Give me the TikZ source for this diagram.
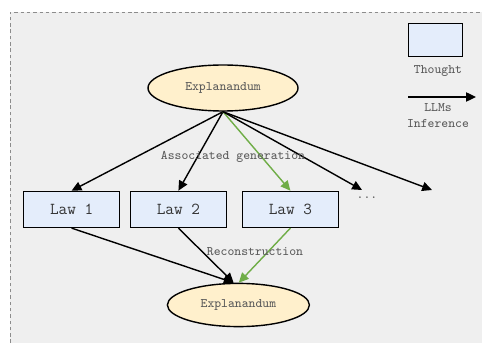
\documentclass[tikz,border=0pt]{standalone}
\usepackage{fontspec}
\usetikzlibrary{shapes.geometric,arrows.meta}
\definecolor{bggray}{HTML}{EFEFEF}
\definecolor{framegray}{HTML}{8C8C8C}
\definecolor{lawblue}{HTML}{E4EDFB}
\definecolor{explyellow}{HTML}{FFF0CC}
\definecolor{infgreen}{HTML}{6FAD47}
\definecolor{labelgray}{HTML}{5A5A5A}
\begin{document}
\begin{tikzpicture}[
   lawbox/.style={draw,line width=1pt,fill=lawblue,minimum width=2.4cm,minimum height=0.9cm,inner sep=0pt,font=\ttfamily\fontsize{11.9}{13}\selectfont,text=black!80},
   explnode/.style={ellipse,draw,line width=1pt,fill=explyellow,inner sep=0pt,font=\ttfamily\fontsize{9.3}{11}\selectfont,text=labelgray},
   lbl/.style={font=\ttfamily\fontsize{9.3}{11}\selectfont,text=labelgray,inner sep=1pt},
   inf/.style={line width=1pt,-{Triangle[length=7pt,width=6.5pt]}},
   infg/.style={inf,draw=infgreen,-{Triangle[length=7pt,width=6.5pt]}}]
   \useasboundingbox (0,0) rectangle (12.05,8.575);
   \fill[bggray] (0.25,0) rectangle (12.05,8.275);
   \draw[framegray,dash pattern=on 2.5pt off 2pt,line width=0.6pt] (0.25,0)--(0.25,8.275)--(12.05,8.275);
   \node[draw,line width=1pt,fill=lawblue,minimum width=1.35cm,minimum height=0.83cm,inner sep=0pt] (legbox) at (10.89,7.575) {};
   \node[lbl] (thought) at (10.95,6.8) {Thought};
   \coordinate (legstart) at (10.2,6.15); \coordinate (legend) at (11.9,6.15);
   \draw[inf] (legstart)--(legend);
   \node[lbl] (llms) at (10.95,5.875) {LLMs}; \node[lbl] (inference) at (10.95,5.475) {Inference};
   \node[explnode,minimum width=3.75cm,minimum height=1.15cm] (topexpl) at (5.575,6.375) {Explanandum};
   \node[lawbox] (law1) at (1.79,3.34) {Law 1}; \node[lawbox] (law2) at (4.46,3.34) {Law 2}; \node[lawbox] (law3) at (7.26,3.34) {Law 3};
   \node[lbl] (dots) at (9.175,3.625) {...};
   \coordinate (more1) at (9.05,3.825); \coordinate (more2) at (10.8,3.825);
   \node[explnode,minimum width=3.55cm,minimum height=1.08cm] (botexpl) at (5.96,0.95) {Explanandum};
   \draw[inf] (topexpl.south)--(law1.north); \draw[inf] (topexpl.south)--(law2.north); \draw[infg] (topexpl.south)--(law3.north);
   \draw[inf] (topexpl.south)--(more1); \draw[inf] (topexpl.south)--(more2);
   \draw[inf] (law1.south)--([xshift=-0.12cm]botexpl.north); \draw[inf] (law2.south)--([xshift=-0.12cm]botexpl.north);
   \draw[infg] (law3.south)--([xshift=0.01cm]botexpl.north);
   \node[lbl] (assoc) at (5.825,4.65) {Associated generation};
   \node[lbl] (recon) at (6.375,2.275) {Reconstruction};
\end{tikzpicture}
\end{document}
